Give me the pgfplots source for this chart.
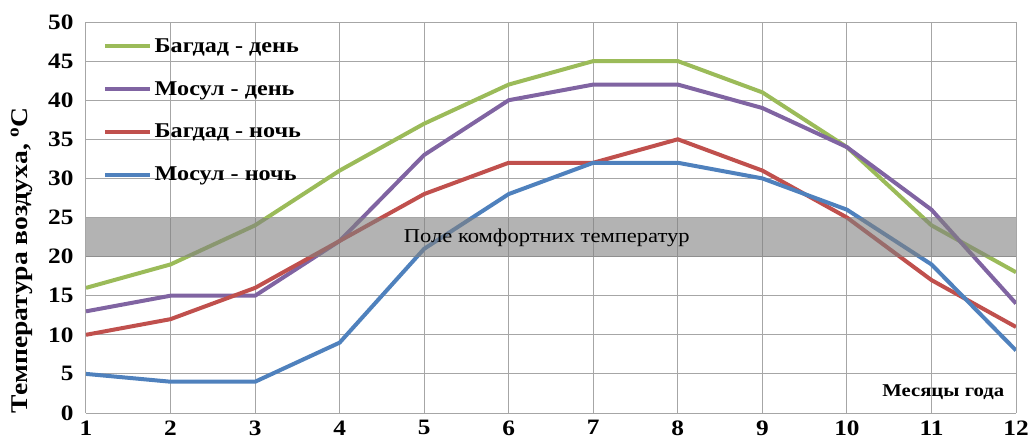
\documentclass[border=0pt]{standalone}
\usepackage{fontspec}
\setmainfont[FakeStretch=1.15]{Liberation Serif}
\usepackage{pgfplots}
\pgfplotsset{compat=1.18}
\definecolor{cgreen}{HTML}{9BBB59}
\definecolor{cpurple}{HTML}{8064A2}
\definecolor{cred}{HTML}{C0504D}
\definecolor{cblue}{HTML}{4F81BD}
\definecolor{gridgray}{HTML}{A6A6A6}
\begin{document}
\begin{tikzpicture}
\begin{axis}[
    scale only axis,
    width=930pt, height=391pt,
    xmin=1, xmax=12, ymin=0, ymax=50,
    xtick={1,...,12}, ytick={0,5,...,50},
    grid=major,
    grid style={color=gridgray, line width=1pt},
    axis line style={draw=none},
    major tick length=0pt,
    /pgf/number format/assume math mode=true,
    tick label style={font=\fontsize{22}{22}\selectfont\bfseries},
    xticklabel style={yshift=-4pt},
    yticklabel style={xshift=-9pt},
    ylabel={Температура воздуха, \textsuperscript{o}C},
    ylabel style={font=\fontsize{24}{24}\selectfont\bfseries, at={(axis description cs:-0.069,0.391)}, anchor=center},
    legend style={at={(axis cs:1.166,48.45)}, anchor=north west, draw=none, fill=none,
        font=\fontsize{21}{21}\selectfont\bfseries, row sep=23.7pt, legend cell align=left},
    legend image code/.code={\draw[#1, line width=4.5pt] (0pt,0pt) -- (45pt,0pt);},
]
\addplot[cgreen, line width=4pt] coordinates {
    (1,16)(2,19)(3,24)(4,31)(5,37)(6,42)(7,45)(8,45)(9,41)(10,34)(11,24)(12,18)};
\addlegendentry{Багдад - день}
\addplot[cpurple, line width=4pt] coordinates {
    (1,13)(2,15)(3,15)(4,22)(5,33)(6,40)(7,42)(8,42)(9,39)(10,34)(11,26)(12,14)};
\addlegendentry{Мосул - день}
\addplot[cred, line width=4pt] coordinates {
    (1,10)(2,12)(3,16)(4,22)(5,28)(6,32)(7,32)(8,35)(9,31)(10,25)(11,17)(12,11)};
\addlegendentry{Багдад - ночь}
\addplot[cblue, line width=4pt] coordinates {
    (1,5)(2,4)(3,4)(4,9)(5,21)(6,28)(7,32)(8,32)(9,30)(10,26)(11,19)(12,8)};
\addlegendentry{Мосул - ночь}
\addplot[draw=none, fill=black!50, fill opacity=0.6, forget plot] coordinates {
    (1,20)(12,20)(12,25)(1,25)} -- cycle;
\node at (axis cs:6.45,22.4) {\fontsize{19.6}{20}\selectfont Поле комфортних температур};
\node at (axis cs:11.14,2.7) {\fontsize{18}{18}\selectfont\bfseries Месяцы года};
\end{axis}
\pgfresetboundingbox
\useasboundingbox ([xshift=-86pt,yshift=-27pt]current axis.south west)
    rectangle ([xshift=943pt,yshift=413pt]current axis.south west);
\end{tikzpicture}
\end{document}
